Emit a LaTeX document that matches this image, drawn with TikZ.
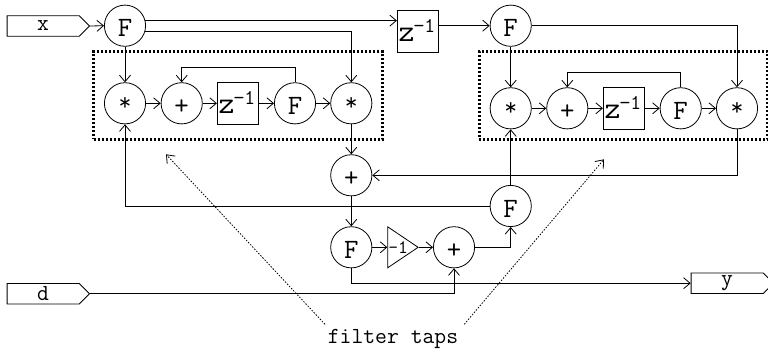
\documentclass[tikz,border=0pt]{standalone}
\usepackage{tikz}
\usetikzlibrary{shapes.geometric, shapes.symbols, arrows.meta}
\newcommand{\bigtt}{\ttfamily\fontsize{28}{28}\selectfont}
\newcommand{\smalltt}{\ttfamily\fontsize{23}{23}\selectfont}
\newcommand{\zdelay}{\hspace{-2pt}\fontsize{31}{31}\selectfont z\hspace{-1pt}\raisebox{9pt}{\fontsize{21}{21}\selectfont−1}}
\newcommand{\mulmark}{\raisebox{4pt}{\fontsize{25}{25}\selectfont*}}
\tikzset{
  sig/.style={-{Straight Barb[length=6.5pt,width=11pt]}, line width=0.8pt},
  opnode/.style={draw, circle, line width=0.8pt, inner sep=0pt, minimum size=41.2pt, font=\bigtt, text height=22pt, text depth=0pt},
  delaybox/.style={draw, rectangle, line width=0.8pt, inner sep=0pt, minimum size=41.4pt, font=\bigtt, text height=20pt, text depth=0pt},
  portnode/.style={draw, signal, signal to=east, signal pointer angle=90, line width=0.8pt, inner sep=0pt, minimum width=82.4pt, minimum height=20.6pt, font=\smalltt, anchor=west},
  gainnode/.style={draw, isosceles triangle, isosceles triangle apex angle=68, isosceles triangle stretches, line width=0.8pt, inner sep=0pt, minimum width=41pt, minimum height=30.4pt, font=\ttfamily\fontsize{19}{19}\selectfont, anchor=lower side},
  tapbox/.style={draw, rectangle, line width=3pt, dash pattern=on 2pt off 2pt, inner sep=0pt},
  tapnote/.style={-{Straight Barb[length=7pt,width=11pt]}, line width=0.8pt, dash pattern=on 1.5pt off 1.5pt},
}
\begin{document}
\begin{tikzpicture}[x=1pt, y=-1pt]
  \useasboundingbox (0,0) rectangle (768,351);
  % tap boxes
  \node[tapbox, minimum width=289pt, minimum height=87.6pt] (tapl) at (238.2,95.5) {};
  \node[tapbox, minimum width=288.4pt, minimum height=87.6pt] (tapr) at (623.5,95.5) {};
  % ports
  \node[portnode] (x) at (6.7,26) {x\hspace{22pt}};
  \node[portnode] (d) at (6.7,293.7) {d\hspace{30pt}};
  \node[portnode] (y) at (690.7,283.2) {y\hspace{10pt}};
  % left part
  \node[opnode] (fa) at (125,25.7) {F};
  \node[opnode] (ma) at (125,103.3) {\mulmark};
  \node[opnode] (pa) at (181.7,103.3) {+};
  \node[delaybox] (za) at (238,103.3) {\zdelay};
  \node[opnode] (fb) at (295,103.3) {F};
  \node[opnode] (mb) at (351.3,103.3) {\mulmark};
  % right part
  \node[delaybox] (zc) at (418,31.2) {\zdelay};
  \node[opnode] (fe) at (510.7,25.7) {F};
  \node[opnode] (mc) at (510.7,108.3) {\mulmark};
  \node[opnode] (pb) at (567.3,108.3) {+};
  \node[delaybox] (zb) at (624,108.3) {\zdelay};
  \node[opnode] (ff) at (680.7,108.3) {F};
  \node[opnode] (md) at (737,108.3) {\mulmark};
  % error path
  \node[opnode] (pc) at (351.3,175.3) {+};
  \node[opnode] (fc) at (351.3,247.3) {F};
  \node[gainnode] (neg) at (387.3,247.3) {-1};
  \node[opnode] (pd) at (454,247.3) {+};
  \node[opnode] (fd) at (510.7,206) {F};
  % note
  \node[font=\smalltt, inner sep=0pt] (taps) at (393,339) {filter taps};
  \coordinate (na) at (325,324.3);
  \coordinate (nb) at (464.3,324.3);
  \coordinate (ta) at (166,154.3);
  \coordinate (tb) at (604,159.3);

  \draw[sig] (x.east) -- (fa.west);
  \draw[sig] (fa.14) -- (fa.14 -| zc.west);
  \draw[sig] (fa.-16) -| (mb.north);
  \draw[sig] (fa.south) -- (ma.north);
  \draw[sig] (ma.east) -- (pa.west);
  \draw[sig] (pa.east) -- (za.west);
  \draw[sig] (za.east) -- (fb.west);
  \draw[sig] (fb.east) -- (mb.west);
  \draw[sig] (fb.north) |- (181.7,67.3) -- (pa.north);
  \draw[sig] (zc.east |- fe.west) -- (fe.west);
  \draw[sig] (fe.east) -| (md.north);
  \draw[sig] (fe.south) -- (mc.north);
  \draw[sig] (mc.east) -- (pb.west);
  \draw[sig] (pb.east) -- (zb.west);
  \draw[sig] (zb.east) -- (ff.west);
  \draw[sig] (ff.east) -- (md.west);
  \draw[sig] (ff.north) |- (567.3,72.3) -- (pb.north);
  \draw[sig] (mb.south) -- (pc.north);
  \draw[sig] (md.south) |- (pc.east);
  \draw[sig] (pc.south) -- (fc.north);
  \draw[sig] (fc.east) -- (neg.lower side);
  \draw[sig] (neg.apex) -- (pd.west);
  \draw[sig] (pd.east) -| (fd.south);
  \draw[sig] (fd.north) -- (mc.south);
  \draw[sig] (fd.west) -| (ma.south);
  \draw[sig] (d.east) -| (pd.south);
  \draw[sig] (fc.south) |- (y.west);
  \draw[tapnote] (na) -- (ta);
  \draw[tapnote] (nb) -- (tb);
\end{tikzpicture}
\end{document}
